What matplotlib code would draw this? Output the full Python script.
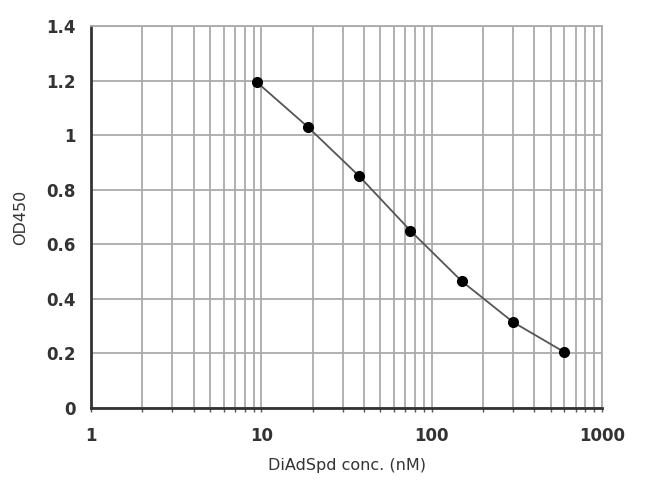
import matplotlib
matplotlib.use("Agg")
import matplotlib.pyplot as plt
from matplotlib.ticker import LogLocator, FixedLocator, FixedFormatter

conc = [9.375, 18.75, 37.5, 75, 150, 300, 600]
od = [1.195, 1.03, 0.85, 0.65, 0.465, 0.315, 0.205]
xticks = [1, 10, 100, 1000]
xtick_labels = ["1", "10", "100", "1000"]
yticks = [0, 0.2, 0.4, 0.6, 0.8, 1.0, 1.2, 1.4]
ytick_labels = ["0", "0.2", "0.4", "0.6", "0.8", "1", "1.2", "1.4"]

fig = plt.figure(figsize=(6.5, 4.87), dpi=100)
ax = fig.add_axes([91/650, 1-408/487, (602-91)/650, (408-26)/487])
ax.set_xscale("log")
ax.set_xlim(1, 1000)
ax.set_ylim(0, 1.4)

ax.plot(conc, od, color="#555555", lw=1.3, zorder=3)
ax.plot(conc, od, "o", color="black", ms=7, zorder=4)

ax.xaxis.set_major_locator(FixedLocator(xticks))
ax.xaxis.set_major_formatter(FixedFormatter(xtick_labels))
ax.xaxis.set_minor_locator(LogLocator(base=10, subs=range(2, 10)))
ax.xaxis.set_minor_formatter(FixedFormatter([]))
ax.yaxis.set_major_locator(FixedLocator(yticks))
ax.yaxis.set_major_formatter(FixedFormatter(ytick_labels))

ax.grid(True, which="both", axis="x", color="#aaaaaa", lw=1.3)
ax.grid(True, which="major", axis="y", color="#aaaaaa", lw=1.3)

for s in ["top", "right"]:
    ax.spines[s].set_color("#aaaaaa")
    ax.spines[s].set_linewidth(1.3)
for s in ["left", "bottom"]:
    ax.spines[s].set_color("#333333")
    ax.spines[s].set_linewidth(2)

ax.tick_params(axis="x", which="both", direction="out", length=3, width=1, color="#555555",
               labelsize=12, labelcolor="#333333", pad=11)
ax.tick_params(axis="y", which="both", length=0, labelsize=12, labelcolor="#333333", pad=11)
for lab in ax.get_xticklabels() + ax.get_yticklabels():
    lab.set_fontweight("bold")

ax.set_xlabel("DiAdSpd conc. (nM)", fontsize=11.5, color="#333333", labelpad=9)
ax.set_ylabel("OD450", fontsize=11.5, color="#333333", labelpad=13)

fig.savefig("out.png", dpi=100)
